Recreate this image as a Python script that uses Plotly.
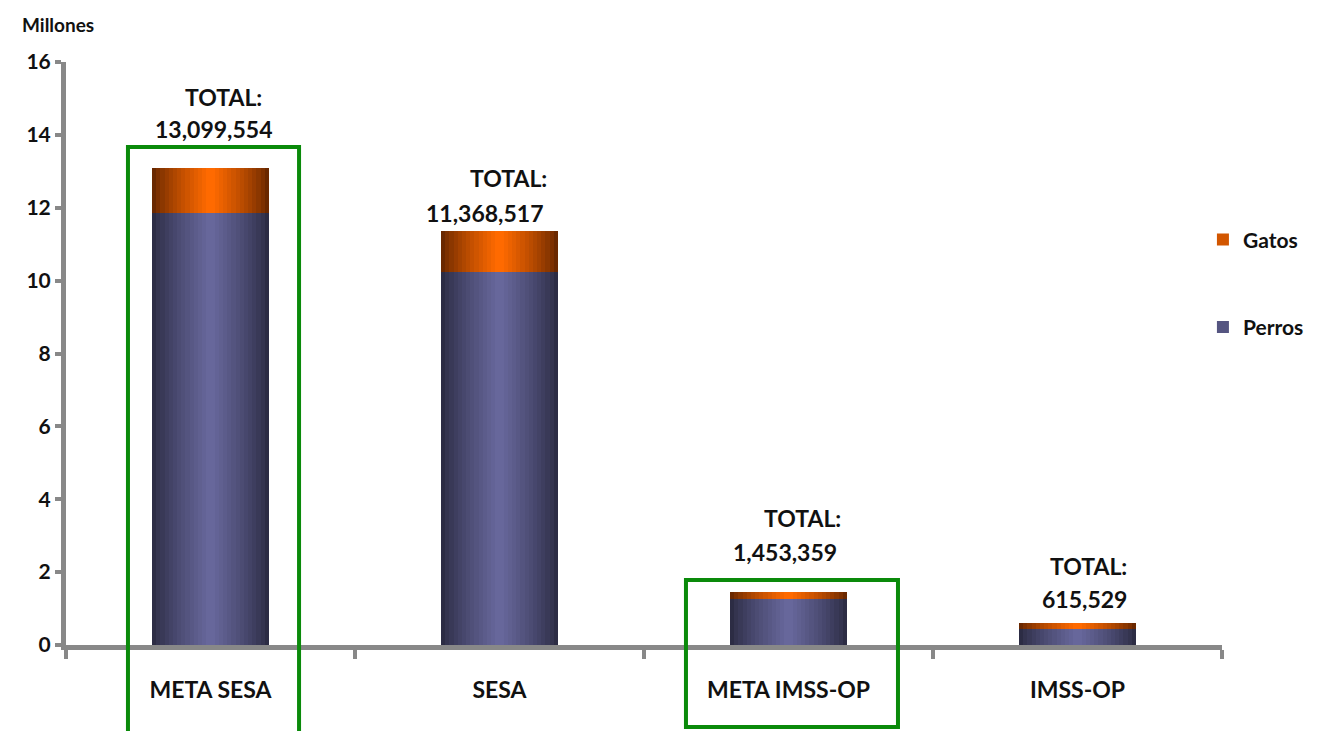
import plotly.graph_objects as go

categories = ["META SESA", "SESA", "META IMSS-OP", "IMSS-OP"]
perros = [11.85, 10.25, 1.25, 0.45]          # millones
gatos = [1.25, 1.12, 0.20, 0.165]            # millones
totals = [13099554, 11368517, 1453359, 615529]
y_ticks = [0, 2, 4, 6, 8, 10, 12, 14, 16]

FONT = "Lato"
AXIS_GRAY = "#888888"

def lerp(c1, c2, t):
    a = [int(c1[i:i + 2], 16) for i in (1, 3, 5)]
    b = [int(c2[i:i + 2], 16) for i in (1, 3, 5)]
    return "#" + "".join(f"{round(a[k] + (b[k] - a[k]) * t):02x}" for k in range(3))

fig = go.Figure()

BAR_W = 0.405
N_LAYERS = 14
series = [
    ("Perros", perros, None, "#2c2c44", "#67679b", "legend2"),
    ("Gatos", gatos, perros, "#6a2800", "#ff6a00", "legend"),
]
for name, vals, base, edge, center, leg in series:
    for i in range(N_LAYERS):
        t = i / (N_LAYERS - 1)
        w = BAR_W * (1 - i / N_LAYERS)
        col = lerp(edge, center, t ** 0.8)
        fig.add_trace(go.Bar(
            x=categories, y=vals, base=base, width=w,
            marker=dict(color=col, line=dict(width=0)),
            name=name, showlegend=False, hoverinfo="skip",
        ))
    # legend swatch
    fig.add_trace(go.Bar(
        x=[categories[0]], y=[0], name=name, legend=leg,
        marker=dict(color=lerp(edge, center, 0.7), line=dict(width=0)),
        showlegend=True, hoverinfo="skip",
    ))

# total labels
num_off = [(3, 39), (-15, 18), (-4, 40), (7, 24)]
tot_off = [(13, 71), (9, 53), (14, 74), (11, 57)]
for c, p, g, tot, no, to in zip(categories, perros, gatos, totals, num_off, tot_off):
    fig.add_annotation(x=c, y=p + g, text=f"{tot:,}", showarrow=False,
                       xshift=no[0], yshift=no[1], yanchor="middle",
                       font=dict(family=FONT, size=23, color="#111111", weight="bold"))
    fig.add_annotation(x=c, y=p + g, text="TOTAL:", showarrow=False,
                       xshift=to[0], yshift=to[1], yanchor="middle",
                       font=dict(family=FONT, size=23, color="#111111", weight="bold"))

# green highlight frames
for x0, x1, y0, y1 in [(0.0536, 0.2016, -0.2, 0.854), (0.5363, 0.7197, -0.1406, 0.1115)]:
    fig.add_shape(type="rect", xref="paper", yref="paper", x0=x0, x1=x1, y0=y0, y1=y1,
                  line=dict(color="#0a8a0a", width=4), layer="above")

fig.add_annotation(xref="paper", yref="paper", x=-0.0069, y=1.065, text="Millones",
                   showarrow=False, xanchor="center", yanchor="middle",
                   font=dict(family=FONT, size=19, color="#111111", weight="bold"))

fig.update_layout(
    width=1322, height=731,
    margin=dict(l=58, r=108, t=54, b=94, autoexpand=False),
    paper_bgcolor="white", plot_bgcolor="white",
    barmode="overlay", bargap=0,
    font=dict(family=FONT, color="#111111"),
    xaxis=dict(
        type="category", categoryorder="array", categoryarray=categories,
        range=[-0.5, 3.5], showgrid=False, zeroline=False, automargin=False,
        showline=True, linecolor=AXIS_GRAY, linewidth=5,
        ticks="outside", tickson="boundaries", ticklen=9, tickwidth=4, tickcolor=AXIS_GRAY,
        ticklabelstandoff=20,
        tickfont=dict(family=FONT, size=23, color="#111111", weight="bold"),
    ),
    yaxis=dict(
        range=[0, 16], tickvals=y_ticks, showgrid=False, zeroline=False, automargin=False,
        showline=True, linecolor=AXIS_GRAY, linewidth=5,
        ticks="outside", ticklen=6, tickwidth=4, tickcolor=AXIS_GRAY,
        tickfont=dict(family=FONT, size=21, color="#111111", weight="bold"),
    ),
    legend=dict(x=0.9835, y=0.695, xanchor="left", yanchor="middle",
                bgcolor="rgba(0,0,0,0)", itemwidth=30,
                font=dict(family=FONT, size=21, color="#111111", weight="bold")),
    legend2=dict(x=0.9835, y=0.545, xanchor="left", yanchor="middle",
                 bgcolor="rgba(0,0,0,0)", itemwidth=30,
                 font=dict(family=FONT, size=21, color="#111111", weight="bold")),
)

fig.write_html("out.html")
